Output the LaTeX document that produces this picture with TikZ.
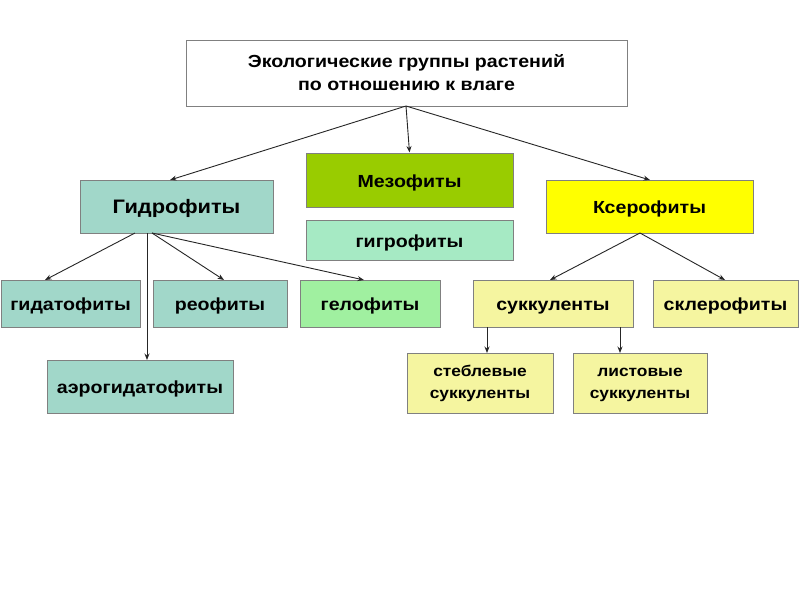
\documentclass[tikz,border=0pt]{standalone}
\usepackage{fontspec}
\setmainfont{Liberation Sans}[FakeStretch=1.12]
\usetikzlibrary{arrows.meta}
\definecolor{tealbox}{RGB}{161,215,201}
\definecolor{mesobox}{RGB}{153,204,0}
\definecolor{hygbox}{RGB}{166,234,196}
\definecolor{helobox}{RGB}{160,240,160}
\definecolor{xerbox}{RGB}{255,255,0}
\definecolor{lyellow}{RGB}{245,245,160}
\definecolor{bordergray}{RGB}{128,128,128}
\tikzset{
  box/.style={draw=bordergray, line width=1pt, rectangle, inner sep=0pt, align=center, font=\bfseries\fontsize{17.5}{21}\selectfont},
  oneline/.style={text height=14pt, text depth=0pt},
  conn/.style={draw=black!85, line width=0.9pt, -{Stealth[length=6.5pt,width=5pt]}}
}
\begin{document}
\begin{tikzpicture}[x=1pt,y=-1pt]
\useasboundingbox (0,0) rectangle (800,600);
\fill[white] (0,0) rectangle (800,600);
\node[box, fill=white, minimum width=441pt, minimum height=66pt, font=\bfseries\fontsize{17.5}{23}\selectfont] (top) at (406.5,73) {Экологические группы растений\\по отношению к влаге};
\node[box, oneline, fill=tealbox, minimum width=193pt, minimum height=53pt, font=\bfseries\fontsize{19.5}{23}\selectfont] (hyd) at (176.5,206.5) {Гидрофиты};
\node[box, oneline, fill=mesobox, minimum width=207pt, minimum height=54pt] (mes) at (409.5,180) {Мезофиты};
\node[box, oneline, fill=hygbox, minimum width=207pt, minimum height=40pt] (hyg) at (409.5,240) {гигрофиты};
\node[box, oneline, fill=xerbox, minimum width=207pt, minimum height=53pt] (xer) at (649.5,206.5) {Ксерофиты};
\node[box, oneline, fill=tealbox, minimum width=139pt, minimum height=47pt] (gida) at (70.5,303.5) {гидатофиты};
\node[box, oneline, fill=tealbox, minimum width=134pt, minimum height=47pt] (reo) at (220,303.5) {реофиты};
\node[box, oneline, fill=helobox, minimum width=140pt, minimum height=47pt] (helo) at (370,303.5) {гелофиты};
\node[box, oneline, fill=lyellow, minimum width=160pt, minimum height=47pt] (succ) at (553,303.5) {суккуленты};
\node[box, oneline, fill=lyellow, minimum width=145pt, minimum height=47pt] (scler) at (725.5,303.5) {склерофиты};
\node[box, oneline, fill=tealbox, minimum width=186pt, minimum height=53pt] (aero) at (140,386.5) {аэрогидатофиты};
\node[box, fill=lyellow, minimum width=146pt, minimum height=60pt, font=\bfseries\fontsize{15.5}{22}\selectfont] (steb) at (480,383) {\rule{0pt}{13pt}стеблевые\\суккуленты};
\node[box, fill=lyellow, minimum width=134pt, minimum height=60pt, font=\bfseries\fontsize{15.5}{22}\selectfont] (list) at (640,383) {\rule{0pt}{13pt}листовые\\суккуленты};
% anchor coordinates
\coordinate (t0) at (406,106);
\coordinate (hydIn) at (170,180);
\coordinate (xerIn) at (650,180);
\coordinate (h1) at (135,233);
\coordinate (h2) at (147,233);
\coordinate (h3) at (152,233);
\coordinate (gidaIn) at (45,280);
\coordinate (reoIn) at (224,280);
\coordinate (heloIn) at (364,280);
\coordinate (aeroIn) at (147,360);
\coordinate (x0) at (640,233);
\coordinate (succIn) at (550,280);
\coordinate (sclerIn) at (725,280);
\coordinate (s1) at (487,327);
\coordinate (s2) at (620,327);
\coordinate (stebIn) at (487,353);
\coordinate (listIn) at (620,353);
\draw[conn] (t0) -- (hydIn);
\draw[conn] (t0) -- (mes.north);
\draw[conn] (t0) -- (xerIn);
\draw[conn] (h1) -- (gidaIn);
\draw[conn] (h2) -- (aeroIn);
\draw[conn] (h3) -- (reoIn);
\draw[conn] (h3) -- (heloIn);
\draw[conn] (x0) -- (succIn);
\draw[conn] (x0) -- (sclerIn);
\draw[conn] (s1) -- (stebIn);
\draw[conn] (s2) -- (listIn);
\end{tikzpicture}
\end{document}
